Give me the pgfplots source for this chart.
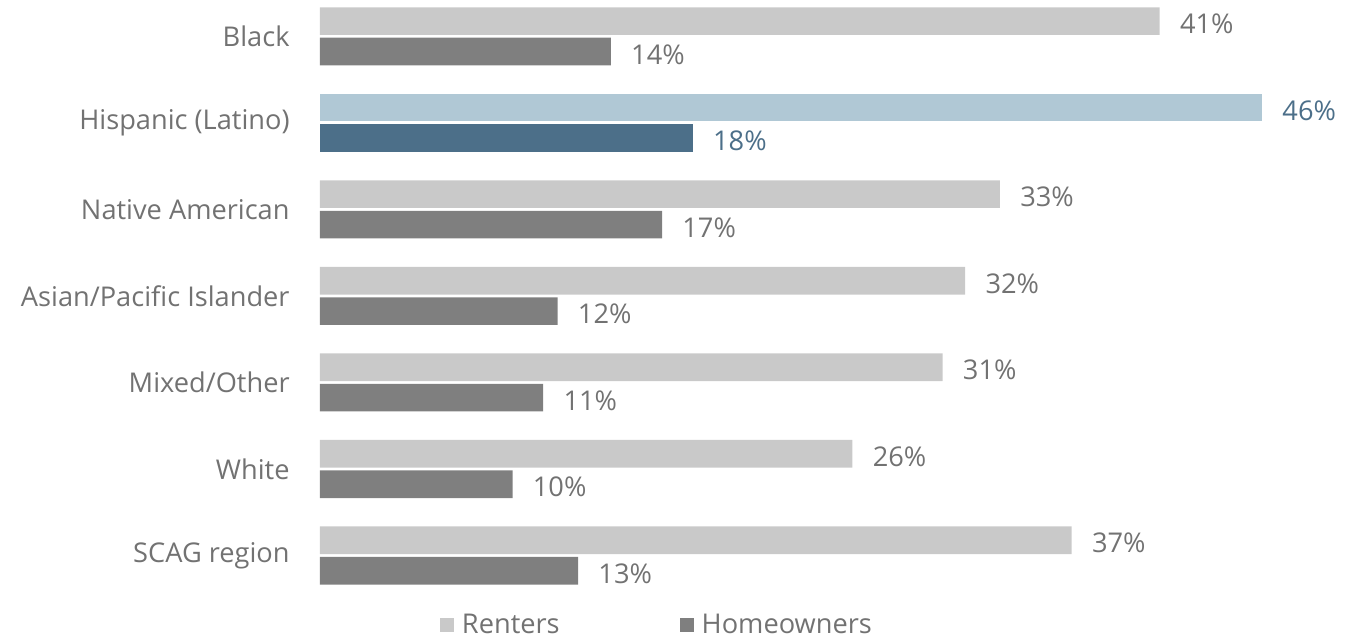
\documentclass[border=0pt]{standalone}
\usepackage{pgfplots}
\pgfplotsset{compat=1.18}
\usepackage{pgfplotstable}
\usepackage{fontspec}
\setmainfont{Open Sans}

\definecolor{rentgray}{HTML}{C9C9C9}
\definecolor{owngray}{HTML}{7F7F7F}
\definecolor{rentblue}{HTML}{B0C8D5}
\definecolor{ownblue}{HTML}{4C6F89}
\definecolor{txtgray}{HTML}{727272}

% y = category index (0 = top), r/h = bar length read off, rl/hl = printed label
\pgfplotstableread{
y r    rl h    hl
0 41.0 41 14.2 14
2 33.2 33 16.7 17
3 31.5 32 11.6 12
4 30.4 31 10.9 11
5 26.0 26  9.4 10
6 36.7 37 12.6 13
}\others
\pgfplotstableread{
y r    rl h    hl
1 46.0 46 18.2 18
}\hisp

\begin{document}
\begin{tikzpicture}
\begin{axis}[
    scale only axis,
    width=512pt, height=295.9pt,
    xbar, bar width=0.32,
    xmin=0, xmax=50,
    ymin=-0.42, ymax=6.42,
    y dir=reverse,
    xtick=\empty,
    ytick={0,1,2,3,4,5,6},
    yticklabels={Black, Hispanic (Latino), Native American, Asian/Pacific Islander, Mixed/Other, White, SCAG region},
    major tick length=0pt,
    axis line style={draw=none},
    yticklabel style={anchor=east, inner sep=0pt, xshift=-15pt,
        font=\fontsize{13.6}{15}\selectfont, text=txtgray},
    point meta=explicit symbolic,
    nodes near coords={\pgfplotspointmeta\%},
    nodes near coords style={anchor=west, inner sep=0pt, xshift=10pt, yshift=-1.5pt,
        font=\fontsize{13.6}{15}\selectfont, text=txtgray},
    legend columns=2,
    legend style={at={(0.33,-0.056)}, anchor=center, draw=none, fill=none,
        font=\fontsize{13.6}{15}\selectfont, text=txtgray,
        /tikz/every even column/.append style={column sep=58pt}},
    legend image code/.code={\fill[#1] (0pt,-3.5pt) rectangle (7pt,3.5pt); \path (9pt,0pt);},
]
\addplot[fill=rentgray, draw=none, bar shift=-0.176] table[x=r, y=y, meta=rl] {\others};
\addplot[fill=owngray, draw=none, bar shift=0.176] table[x=h, y=y, meta=hl] {\others};
\addplot[fill=rentblue, draw=none, bar shift=-0.176, forget plot,
    nodes near coords style={text=ownblue}] table[x=r, y=y, meta=rl] {\hisp};
\addplot[fill=ownblue, draw=none, bar shift=0.176, forget plot,
    nodes near coords style={text=ownblue}] table[x=h, y=y, meta=hl] {\hisp};
\legend{Renters, Homeowners}
\end{axis}
\pgfresetboundingbox
\path[use as bounding box] (current axis.north west) ++(-160pt,0pt) rectangle ++(681.5pt,-318.5pt);
\end{tikzpicture}
\end{document}
